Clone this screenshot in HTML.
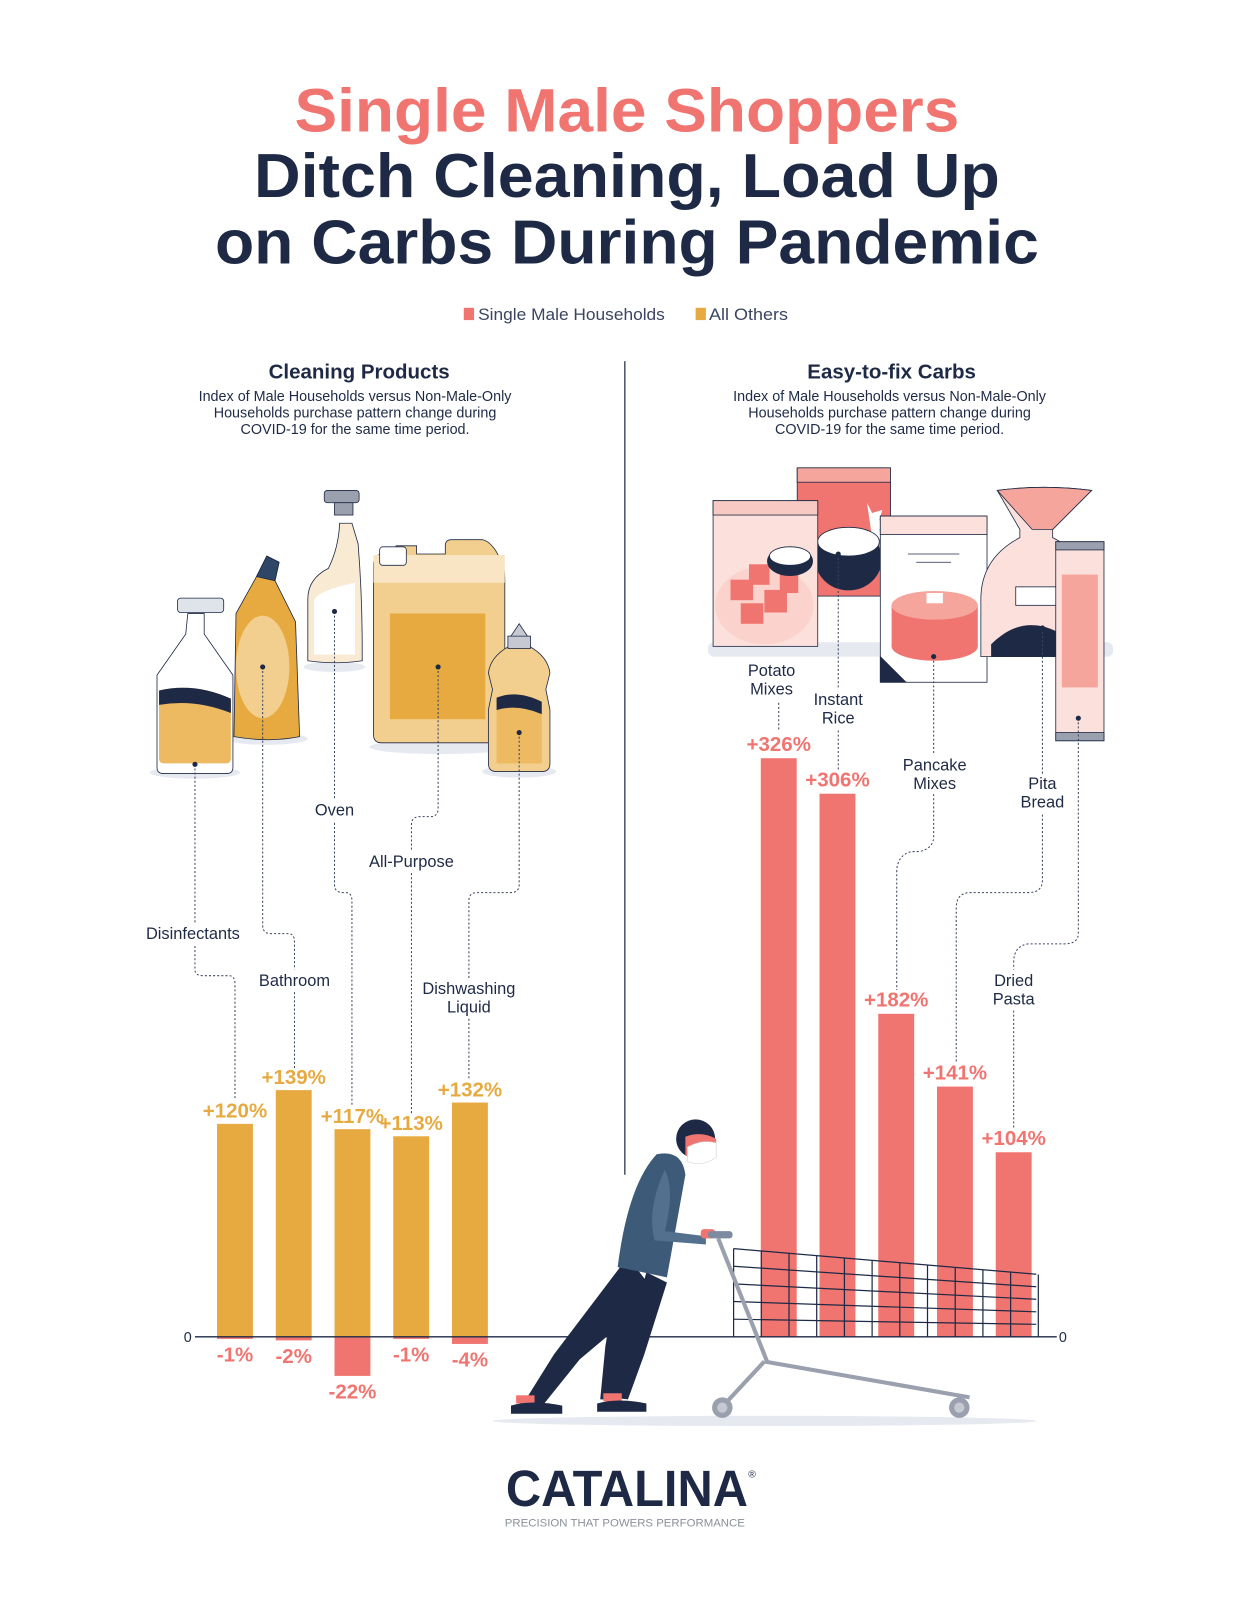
<!DOCTYPE html>
<html><head><meta charset="utf-8"><style>
html,body{margin:0;padding:0;background:#fff}
svg{display:block}
text{font-family:"Liberation Sans",sans-serif}
</style></head><body>
<svg id="page" width="1242" height="1608" viewBox="0 0 1210.5 1567.3" xmlns="http://www.w3.org/2000/svg">
<rect width="1210.5" height="1567.3" fill="#fff"/>
<g font-weight="bold" text-anchor="middle">
<text x="611" y="128" font-size="60" fill="#f07470" textLength="648" lengthAdjust="spacingAndGlyphs">Single Male Shoppers</text>
<text x="611" y="192" font-size="61" fill="#1e2a45" textLength="727" lengthAdjust="spacingAndGlyphs">Ditch Cleaning, Load Up</text>
<text x="611" y="257" font-size="61" fill="#1e2a45" textLength="803" lengthAdjust="spacingAndGlyphs">on Carbs During Pandemic</text>
</g>
<g font-size="16" fill="#3a4560">
<rect x="452" y="300" width="10" height="12" fill="#f07470"/>
<text x="466" y="312" textLength="182" lengthAdjust="spacingAndGlyphs">Single Male Households</text>
<rect x="678" y="300" width="10" height="12" fill="#e6aa40"/>
<text x="691" y="312" textLength="77" lengthAdjust="spacingAndGlyphs">All Others</text>
</g>
<line x1="609" y1="352" x2="609" y2="1145" stroke="#1e2a45" stroke-width="1.2"/>
<g text-anchor="middle" fill="#1e2a45">
<text x="350" y="369" font-size="20" font-weight="bold">Cleaning Products</text>
<text x="346" y="391" font-size="14">Index of Male Households versus Non-Male-Only</text>
<text x="346" y="407" font-size="14">Households purchase pattern change during</text>
<text x="346" y="423" font-size="14">COVID-19 for the same time period.</text>
</g>
<g text-anchor="middle" fill="#1e2a45">
<text x="869" y="369" font-size="20" font-weight="bold">Easy-to-fix Carbs</text>
<text x="867" y="391" font-size="14">Index of Male Households versus Non-Male-Only</text>
<text x="867" y="407" font-size="14">Households purchase pattern change during</text>
<text x="867" y="423" font-size="14">COVID-19 for the same time period.</text>
</g>

<g stroke="#1e2a45" stroke-width="0.8">
<g fill="#e6e9f0" stroke="none"><ellipse cx="190" cy="753" rx="44" ry="6"/><ellipse cx="260" cy="720" rx="40" ry="6"/><ellipse cx="326" cy="650" rx="30" ry="5"/><ellipse cx="430" cy="728" rx="70" ry="7"/><ellipse cx="506" cy="752" rx="36" ry="6"/></g>
<path d="M183 598 h16 v20 l28 40 v90 q0 6 -6 6 h-62 q-6 0 -6 -6 v-90 l28 -40z" fill="#fff"/>
<rect x="173" y="583" width="45" height="14" rx="3" fill="#dfe3ea"/>
<path d="M155 673 q35 -8 70 8 v58 q0 5 -5 5 h-60 q-5 0 -5 -5z" fill="#edb961" stroke="none"/>
<path d="M155 673 q35 -8 70 8 v14 q-35 -14 -70 -8z" fill="#1e2a45" stroke="none"/>
<path d="M250 562 l10 -20 l12 6 l-4 18 l20 40 l4 112 q-30 6 -64 0 l2 -120z" fill="#e6aa40"/>
<path d="M250 562 l10 -20 l12 6 l-4 18z" fill="#2f4766"/>
<ellipse cx="256" cy="650" rx="26" ry="50" fill="#f3cf8f" stroke="none"/>
<path d="M331 510 h12 l6 20 q4 50 4 100 v14 q-26 4 -53 0 v-60 q0 -20 20 -30 q10 -20 11 -44z" fill="#f9ead3"/>
<path d="M306 585 q5 -10 40 -17 v70 h-40z" fill="#fff" stroke="none"/>
<rect x="316" y="478" width="34" height="12" rx="3" fill="#9aa0ad"/>
<rect x="326" y="490" width="18" height="12" fill="#9aa0ad"/>
<path d="M364 550 q0 -10 10 -10 h12 v-8 h20 v8 h28 v-8 q0 -6 6 -6 h30 q10 2 18 20 q4 6 4 20 v150 q0 8 -8 8 h-112 q-8 0 -8 -8z" fill="#f3cf8f"/>
<rect x="364" y="541" width="128" height="27" fill="#f9e5c4" stroke="none"/>
<rect x="370" y="533" width="26" height="18" rx="3" fill="#fff"/>
<rect x="380" y="598" width="93" height="103" fill="#e6aa40" stroke="none"/>
<path d="M496 630 q-18 10 -20 26 l4 16 l-4 20 v52 q0 8 8 8 h44 q8 0 8 -8 v-52 l-4 -20 l4 -16 q-2 -16 -20 -26z" fill="#f3cf8f"/>
<path d="M484 680 q20 -8 44 4 v60 h-44z" fill="#edb961" stroke="none"/>
<path d="M484 680 q20 -8 44 4 v12 q-24 -10 -44 -4z" fill="#1e2a45" stroke="none"/>
<rect x="495" y="620" width="22" height="12" fill="#c6c9d2"/>
<path d="M498 620 l8 -12 l8 12z" fill="#c6c9d2"/>
</g>

<g stroke="#1e2a45" stroke-width="0.8">
<rect x="690" y="626" width="395" height="14" rx="6" fill="#e6e9f0" stroke="none"/>
<rect x="777" y="456" width="91" height="125" fill="#f07470"/>
<rect x="777" y="456" width="91" height="14" fill="#f5a59c"/>
<path d="M845 490 l5 10 l10 -3 l-3 10 l10 4 l-10 5 l4 10 l-11 -2 z" fill="#fff" stroke="none"/>
<ellipse cx="827" cy="545" rx="32" ry="30" fill="#1e2a45"/>
<ellipse cx="827" cy="528" rx="30" ry="14" fill="#fff"/>
<rect x="695" y="488" width="102" height="142" fill="#fbe0dc"/>
<rect x="695" y="488" width="102" height="14" fill="#f7c9c2"/>
<ellipse cx="745" cy="590" rx="48" ry="38" fill="#fbd2cc" stroke="none"/>
<g fill="#f07470" stroke="none"><rect x="712" y="565" width="22" height="20"/><rect x="730" y="550" width="20" height="20"/><rect x="745" y="575" width="22" height="22"/><rect x="722" y="588" width="22" height="20"/><rect x="760" y="560" width="18" height="18"/></g>
<ellipse cx="770" cy="547" rx="22" ry="14" fill="#1e2a45"/><ellipse cx="770" cy="542" rx="20" ry="9" fill="#fff"/>
<rect x="858" y="503" width="104" height="162" fill="#fff"/>
<rect x="858" y="503" width="104" height="18" fill="#fbe0dc"/>
<g stroke="#1e2a45"><line x1="885" y1="540" x2="935" y2="540"/><line x1="893" y1="548" x2="927" y2="548"/></g>
<g fill="#f07470" stroke="none"><ellipse cx="911" cy="630" rx="42" ry="14"/><rect x="869" y="590" width="84" height="40"/><ellipse cx="911" cy="590" rx="42" ry="14" fill="#f5a59c"/></g>
<rect x="903" y="578" width="16" height="10" fill="#fff" stroke="none"/>
<path d="M858 640 v25 h25z" fill="#1e2a45"/>
<path d="M972 478 q45 -6 92 0 l-38 38 v8 q40 20 40 60 v56 h-110 v-56 q0 -40 38 -60 v-8z" fill="#fbe0dc"/>
<path d="M972 478 q45 -6 92 0 l-38 38 h-20z" fill="#f5a59c"/>
<path d="M966 628 q30 -30 65 -12 l-2 24 h-63z" fill="#1e2a45" stroke="none"/>
<rect x="990" y="572" width="40" height="18" fill="#fff"/>
<rect x="1029" y="528" width="47" height="194" fill="#fbe0dc"/>
<rect x="1035" y="560" width="35" height="110" fill="#f5a59c" stroke="none"/>
<rect x="1029" y="528" width="47" height="8" fill="#9aa0ad"/>
<rect x="1029" y="714" width="47" height="8" fill="#9aa0ad"/>
</g>

<g id="leaders" fill="none" stroke="#3a4560" stroke-width="1" stroke-dasharray="2,2">
<path d="M190 745 V900 M190 922 V945 q0 6 8 6 H223 q6 0 6 8 V1072"/>
<path d="M256 650 V902 q0 8 8 8 H281 q6 0 6 8 V945 M287 967 V1042"/>
<path d="M326 596 V780 M326 802 V862 q0 8 8 8 H337 q6 0 6 8 V1078"/>
<path d="M427 650 V788 q0 8 -8 8 H409 q-8 0 -8 8 V828 M401 851 V1085"/>
<path d="M506 714 V862 q0 8 -8 8 H465 q-8 0 -8 8 V955 M457 993 V1052"/>
<path d="M759 685 V712"/>
<path d="M817 540 V672 M817 712 V752"/>
<path d="M910 640 V736 M910 774 V815 q0 12 -14 15 H888 q-14 4 -14 20 V965"/>
<path d="M1016 612 V754 M1016 794 V858 q0 12 -14 12 H946 q-14 0 -14 15 V1036"/>
<path d="M1051 700 V910 q0 10 -14 10 H1002 q-14 2 -14 18 V945 M988 985 V1100"/>
</g>
<g fill="#1e2a45">
<circle cx="190" cy="745" r="2.5"/><circle cx="256" cy="650" r="2.5"/><circle cx="326" cy="596" r="2.5"/><circle cx="427" cy="650" r="2.5"/><circle cx="506" cy="714" r="2.5"/><circle cx="817" cy="540" r="2.5"/><circle cx="910" cy="640" r="2.5"/><circle cx="1016" cy="612" r="2.5"/><circle cx="1051" cy="700" r="2.5"/>
</g>

<g id="cats" font-size="16" fill="#1e2a45" text-anchor="middle"></g>

<g>
<ellipse cx="745" cy="1385" rx="265" ry="5" fill="#e6e9f0"/>
<path d="M612 1225 L540 1320 L510 1368 L524 1376 L565 1325 L640 1262 Z" fill="#1e2a45"/>
<path d="M612 1225 L632 1260 L610 1318 L600 1364 L585 1364 L590 1312 L600 1255 Z" fill="#1e2a45"/>
<path d="M630 1240 L605 1330 L595 1362 L612 1364 L628 1320 L650 1250 Z" fill="#1e2a45"/>
<rect x="503" y="1360" width="18" height="8" fill="#f07470"/><rect x="588" y="1358" width="18" height="8" fill="#f07470"/>
<path d="M498 1370 q20 -6 50 0 v8 h-50z" fill="#1e2a45"/><path d="M582 1368 q20 -6 48 0 v8 h-48z" fill="#1e2a45"/>
<path d="M640 1125 q25 -5 28 20 l-18 100 l-48 -10 q10 -80 38 -110z" fill="#3d5a78"/>
<path d="M648 1140 q10 20 0 60 l40 5 l0 8 l-50 -4 q-8 -30 10 -69z" fill="#53708f"/>
<rect x="683" y="1198" width="14" height="9" rx="3" fill="#f07470"/>
<circle cx="678" cy="1110" r="19" fill="#1e2a45"/>
<path d="M668 1108 q15 -6 30 2 v16 q-15 8 -30 0z" fill="#f07470"/>
<path d="M670 1118 q15 -8 28 -4 v14 q-14 10 -28 4z" fill="#fff" stroke="#ccc" stroke-width="0.5"/>
</g>

<g id="chart"></g>

<g id="cart">
<g id="cartgrid" stroke="#1e2a45" stroke-width="1.2" fill="none"></g>
<line x1="700" y1="1207" x2="748" y2="1328" stroke="#9aa0ad" stroke-width="4"/>
<line x1="745" y1="1327" x2="945" y2="1362" stroke="#9aa0ad" stroke-width="4"/>
<line x1="745" y1="1327" x2="705" y2="1370" stroke="#9aa0ad" stroke-width="4"/>
<rect x="690" y="1200" width="24" height="7" rx="3" fill="#7d8aa0"/>
<circle cx="704" cy="1372" r="10" fill="#9aa0ad"/><circle cx="704" cy="1372" r="5" fill="#c6c9d2"/>
<circle cx="935" cy="1372" r="10" fill="#9aa0ad"/><circle cx="935" cy="1372" r="5" fill="#c6c9d2"/>
</g>

<g text-anchor="middle">
<text x="611" y="1468" font-size="50" font-weight="bold" fill="#1e2a45" textLength="236" lengthAdjust="spacingAndGlyphs">CATALINA</text>
<text x="733" y="1440" font-size="10" fill="#1e2a45">®</text>
<text x="609" y="1488" font-size="11" fill="#8a8f9a" textLength="234" lengthAdjust="spacingAndGlyphs">PRECISION THAT POWERS PERFORMANCE</text>
</g>
</svg>
<script>
const cleanCats = ["Disinfectants","Bathroom","Oven","All-Purpose","Dishwashing Liquid"];
const cleanOthers = [120,139,117,113,132];
const cleanMale = [-1,-2,-22,-1,-4];
const carbCats = ["Potato Mixes","Instant Rice","Pancake Mixes","Pita Bread","Dried Pasta"];
const carbMale = [326,306,182,141,104];

const NS="http://www.w3.org/2000/svg";
const base=1303, k=1.73, bw=35;
const leftX=i=>229+i*57.25;
const rightX=i=>759+i*57.25;
const y=v=>base-v*k;
const chart=document.getElementById('chart');
function mk(tag,at,parent){const e=document.createElementNS(NS,tag);for(const a in at)e.setAttribute(a,at[a]);(parent||chart).appendChild(e);return e;}
function label(x,yy,txt,col){const t=mk('text',{x:x,y:yy,'text-anchor':'middle','font-size':20,'font-weight':'bold',fill:col});t.textContent=txt;return t;}
cleanOthers.forEach((v,i)=>{
  const r=mk('rect',{x:leftX(i)-bw/2,y:y(v),width:bw,height:base-y(v),fill:'#e6aa40'});
  
  
  const t=label(leftX(i),y(v)-6,'+'+v+'%','#e6aa40');
  
  
});
cleanMale.forEach((v,i)=>{
  const h=Math.max(-v*k,2);
  const r=mk('rect',{x:leftX(i)-bw/2,y:base,width:bw,height:h,fill:'#f07470'});
  
  
  const t=label(leftX(i),base+h+22,v+'%','#f07470');
  
  
});
carbMale.forEach((v,i)=>{
  const r=mk('rect',{x:rightX(i)-bw/2,y:y(v),width:bw,height:base-y(v),fill:'#f07470'});
  
  
  const t=label(rightX(i),y(v)-7,'+'+v+'%','#f07470');
  
  
});
const g=document.getElementById('cartgrid');
for(let j=0;j<12;j++){const x=715+j*27;const yt=1217+(x-715)*0.085;mk('line',{x1:x,y1:yt,x2:x,y2:base},g);}
for(let j=0;j<5;j++){const f=j/5;mk('line',{x1:715,y1:1217+f*86,x2:1010,y2:1242+f*61},g);}
const ax=mk('line',{x1:190,y1:base,x2:1030,y2:base,stroke:'#1e2a45','stroke-width':1.3});


const z1=mk('text',{x:183,y:base+5,'font-size':14,fill:'#1e2a45','text-anchor':'middle'});z1.textContent='0';


const z2=mk('text',{x:1036,y:base+5,'font-size':14,fill:'#1e2a45','text-anchor':'middle'});z2.textContent='0';


const cats=document.getElementById('cats');
const catPos=[[188,915],[287,961],[326,795],[401,845],[457,969],[752,659],[817,687],[911,751],[1016,769],[988,961]];
const all=cleanCats.concat(carbCats);
all.forEach((c,i)=>{
  const lines=(i<4)?[c]:c.split(' ');
  lines.forEach((w,j)=>{
    const t=mk('text',{x:catPos[i][0],y:catPos[i][1]+j*18},cats);
    t.textContent=w;
    
    
  });
});
</script>
</body></html>
